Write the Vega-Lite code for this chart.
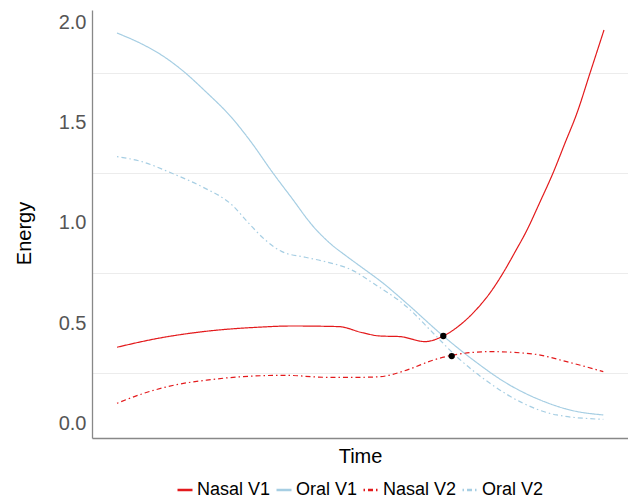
{
  "$schema": "https://vega.github.io/schema/vega-lite/v6.json",
  "width": 536,
  "height": 428,
  "autosize": {"type": "none"},
  "padding": {"left": 92, "top": 10, "right": 0, "bottom": 64},
  "background": "white",
  "config": {
    "view": {"stroke": null},
    "font": "Liberation Sans",
    "axis": {"labelFont": "Liberation Sans", "titleFont": "Liberation Sans"},
    "legend": {"labelFont": "Liberation Sans"}
  },
  "datasets": {
    "lines": [
      {"Time": 25, "Energy": 1.948, "series": "Oral V1"},
      {"Time": 50, "Energy": 1.893, "series": "Oral V1"},
      {"Time": 68, "Energy": 1.843, "series": "Oral V1"},
      {"Time": 90, "Energy": 1.763, "series": "Oral V1"},
      {"Time": 113, "Energy": 1.659, "series": "Oral V1"},
      {"Time": 140, "Energy": 1.524, "series": "Oral V1"},
      {"Time": 160, "Energy": 1.398, "series": "Oral V1"},
      {"Time": 180, "Energy": 1.256, "series": "Oral V1"},
      {"Time": 200, "Energy": 1.123, "series": "Oral V1"},
      {"Time": 220, "Energy": 0.99, "series": "Oral V1"},
      {"Time": 240, "Energy": 0.89, "series": "Oral V1"},
      {"Time": 253, "Energy": 0.84, "series": "Oral V1"},
      {"Time": 268, "Energy": 0.785, "series": "Oral V1"},
      {"Time": 291.3, "Energy": 0.699, "series": "Oral V1"},
      {"Time": 314.7, "Energy": 0.599, "series": "Oral V1"},
      {"Time": 351.3, "Energy": 0.436, "series": "Oral V1"},
      {"Time": 381.3, "Energy": 0.316, "series": "Oral V1"},
      {"Time": 414.7, "Energy": 0.2, "series": "Oral V1"},
      {"Time": 448, "Energy": 0.117, "series": "Oral V1"},
      {"Time": 481.3, "Energy": 0.063, "series": "Oral V1"},
      {"Time": 511.3, "Energy": 0.042, "series": "Oral V1"},

      {"Time": 25, "Energy": 1.331, "series": "Oral V2"},
      {"Time": 50, "Energy": 1.306, "series": "Oral V2"},
      {"Time": 80, "Energy": 1.248, "series": "Oral V2"},
      {"Time": 110, "Energy": 1.181, "series": "Oral V2"},
      {"Time": 140, "Energy": 1.09, "series": "Oral V2"},
      {"Time": 156.7, "Energy": 0.999, "series": "Oral V2"},
      {"Time": 173.3, "Energy": 0.915, "series": "Oral V2"},
      {"Time": 190, "Energy": 0.857, "series": "Oral V2"},
      {"Time": 213.3, "Energy": 0.829, "series": "Oral V2"},
      {"Time": 233.3, "Energy": 0.807, "series": "Oral V2"},
      {"Time": 260, "Energy": 0.765, "series": "Oral V2"},
      {"Time": 281.3, "Energy": 0.699, "series": "Oral V2"},
      {"Time": 314.7, "Energy": 0.582, "series": "Oral V2"},
      {"Time": 341.3, "Energy": 0.45, "series": "Oral V2"},
      {"Time": 364.7, "Energy": 0.333, "series": "Oral V2"},
      {"Time": 398, "Energy": 0.2, "series": "Oral V2"},
      {"Time": 431.3, "Energy": 0.1, "series": "Oral V2"},
      {"Time": 464.7, "Energy": 0.042, "series": "Oral V2"},
      {"Time": 511.3, "Energy": 0.02, "series": "Oral V2"},

      {"Time": 25, "Energy": 0.38, "series": "Nasal V1"},
      {"Time": 66.7, "Energy": 0.425, "series": "Nasal V1"},
      {"Time": 116.7, "Energy": 0.461, "series": "Nasal V1"},
      {"Time": 166.7, "Energy": 0.48, "series": "Nasal V1"},
      {"Time": 200, "Energy": 0.486, "series": "Nasal V1"},
      {"Time": 246.7, "Energy": 0.483, "series": "Nasal V1"},
      {"Time": 270, "Energy": 0.453, "series": "Nasal V1"},
      {"Time": 288, "Energy": 0.436, "series": "Nasal V1"},
      {"Time": 308, "Energy": 0.433, "series": "Nasal V1"},
      {"Time": 333, "Energy": 0.408, "series": "Nasal V1"},
      {"Time": 351.3, "Energy": 0.436, "series": "Nasal V1"},
      {"Time": 368, "Energy": 0.491, "series": "Nasal V1"},
      {"Time": 383, "Energy": 0.561, "series": "Nasal V1"},
      {"Time": 398, "Energy": 0.651, "series": "Nasal V1"},
      {"Time": 411, "Energy": 0.75, "series": "Nasal V1"},
      {"Time": 423, "Energy": 0.855, "series": "Nasal V1"},
      {"Time": 435, "Energy": 0.965, "series": "Nasal V1"},
      {"Time": 448, "Energy": 1.105, "series": "Nasal V1"},
      {"Time": 461, "Energy": 1.249, "series": "Nasal V1"},
      {"Time": 473, "Energy": 1.399, "series": "Nasal V1"},
      {"Time": 485, "Energy": 1.549, "series": "Nasal V1"},
      {"Time": 498, "Energy": 1.748, "series": "Nasal V1"},
      {"Time": 512, "Energy": 1.963, "series": "Nasal V1"},

      {"Time": 25, "Energy": 0.1, "series": "Nasal V2"},
      {"Time": 50, "Energy": 0.147, "series": "Nasal V2"},
      {"Time": 83.3, "Energy": 0.192, "series": "Nasal V2"},
      {"Time": 116.7, "Energy": 0.217, "series": "Nasal V2"},
      {"Time": 150, "Energy": 0.233, "series": "Nasal V2"},
      {"Time": 193.3, "Energy": 0.24, "series": "Nasal V2"},
      {"Time": 233.3, "Energy": 0.23, "series": "Nasal V2"},
      {"Time": 270, "Energy": 0.23, "series": "Nasal V2"},
      {"Time": 288, "Energy": 0.233, "series": "Nasal V2"},
      {"Time": 314.7, "Energy": 0.266, "series": "Nasal V2"},
      {"Time": 341.3, "Energy": 0.316, "series": "Nasal V2"},
      {"Time": 361.3, "Energy": 0.341, "series": "Nasal V2"},
      {"Time": 398, "Energy": 0.358, "series": "Nasal V2"},
      {"Time": 441.3, "Energy": 0.346, "series": "Nasal V2"},
      {"Time": 474.7, "Energy": 0.308, "series": "Nasal V2"},
      {"Time": 511.3, "Energy": 0.258, "series": "Nasal V2"}
    ],
    "points": [
      {"Time": 351.3, "Energy": 0.436},
      {"Time": 359.7, "Energy": 0.336}
    ]
  },
  "layer": [
    {
      "data": {"name": "lines"},
      "mark": {"type": "line", "interpolate": "monotone", "strokeWidth": 1.2},
      "encoding": {
        "x": {
          "field": "Time", "type": "quantitative",
          "scale": {"domain": [0, 536], "nice": false, "zero": false},
          "axis": {
            "title": "Time", "titleFontSize": 20, "titleFontWeight": "normal", "titleColor": "black",
            "titlePadding": 8, "labels": false, "ticks": false, "grid": false,
            "domainColor": "#888888", "domainWidth": 1.3
          }
        },
        "y": {
          "field": "Energy", "type": "quantitative",
          "scale": {"domain": [-0.073, 2.063], "nice": false, "zero": false},
          "axis": {
            "title": "Energy", "titleFontSize": 20, "titleFontWeight": "normal", "titleColor": "black",
            "titlePadding": 24, "titleY": 223,
            "values": [0, 0.25, 0.5, 0.75, 1, 1.25, 1.5, 1.75, 2],
            "labelExpr": "datum.value % 0.5 == 0 ? format(datum.value, '.1f') : ''",
            "labelFontSize": 20, "labelColor": "#555555", "labelPadding": 6,
            "ticks": false, "tickSize": 0,
            "grid": true, "gridColor": "#ececec", "gridWidth": 1,
            "gridOpacity": {"condition": {"test": "datum.value % 0.5 != 0", "value": 1}, "value": 0},
            "domainColor": "#888888", "domainWidth": 1.3
          }
        },
        "color": {
          "field": "series", "type": "nominal",
          "scale": {"domain": ["Nasal V1", "Oral V1", "Nasal V2", "Oral V2"], "range": ["#E31A1C", "#A6CEE3", "#E31A1C", "#A6CEE3"]},
          "legend": {
            "title": null, "orient": "none", "direction": "horizontal",
            "legendX": 84, "legendY": 471,
            "symbolType": "stroke", "symbolSize": 225, "symbolStrokeWidth": 2.5,
            "labelFontSize": 18, "labelColor": "black", "labelOffset": 3, "columnPadding": 0
          }
        },
        "strokeDash": {
          "field": "series", "type": "nominal",
          "scale": {"domain": ["Nasal V1", "Oral V1", "Nasal V2", "Oral V2"], "range": [[1, 0], [1, 0], [1.5, 3, 5, 3], [1.5, 3, 5, 3]]},
          "legend": {
            "title": null, "orient": "none", "direction": "horizontal",
            "legendX": 84, "legendY": 471,
            "symbolType": "stroke", "symbolSize": 225, "symbolStrokeWidth": 2.5,
            "labelFontSize": 18, "labelColor": "black", "labelOffset": 3, "columnPadding": 0
          }
        }
      }
    },
    {
      "data": {"name": "points"},
      "mark": {"type": "point", "filled": true, "color": "black", "size": 40, "opacity": 1},
      "encoding": {
        "x": {"field": "Time", "type": "quantitative"},
        "y": {"field": "Energy", "type": "quantitative"}
      }
    }
  ]
}
